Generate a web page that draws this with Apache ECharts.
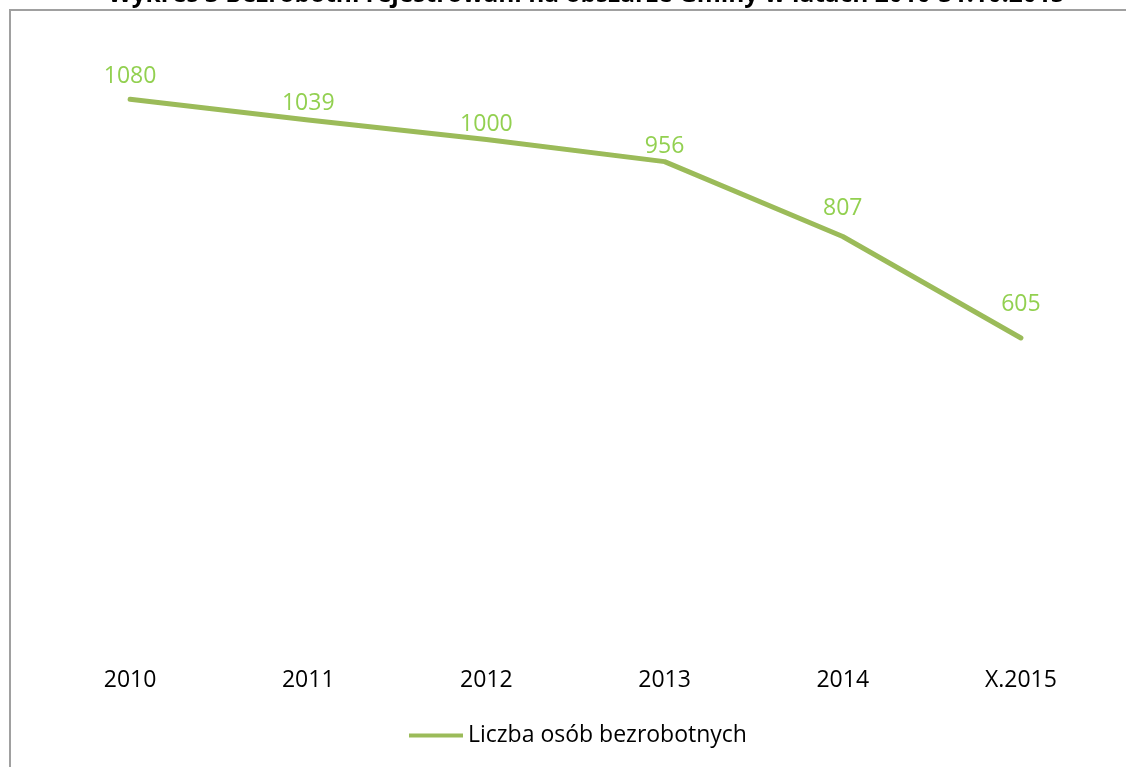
<!DOCTYPE html>
<html><head><meta charset="utf-8">
<script src="https://cdn.jsdelivr.net/npm/echarts@6/dist/echarts.min.js"></script>
<style>html,body{margin:0;padding:0;background:#fff}#c{width:1126px;height:767px}</style>
</head><body><div id="c"></div>
<script>
const categories = ['2010','2011','2012','2013','2014','X.2015'];
const values = [1080,1039,1000,956,807,605];
const seriesName = 'Liczba osób bezrobotnych';
const titleText = 'Wykres 3 Bezrobotni rejestrowani na obszarze Gminy w latach 2010-31.10.2015';
// label placement tweaks (style only, pixels)
const labelShiftY = [2, 8, 9, 9, -4, -9];
const FONT = '"Open Sans", "Noto Sans", sans-serif';
const chart = echarts.init(document.getElementById('c'));
chart.setOption({
  animation:false,
  backgroundColor:'#fff',
  title:{text:titleText,left:103,top:-22,textStyle:{fontFamily:FONT,fontSize:24.5,fontWeight:'bold',color:'#000'}},
  graphic:[{type:'rect',z:-1,shape:{x:10,y:10,width:1200,height:800},style:{fill:'none',stroke:'#a0a0a0',lineWidth:2}}],
  legend:{bottom:15,left:404,itemWidth:54,itemHeight:4,itemGap:4,icon:'rect',
    textStyle:{fontFamily:FONT,fontSize:23,color:'#000'},data:[seriesName]},
  grid:{left:41,right:16,top:39,bottom:125},
  xAxis:{type:'category',data:categories,axisLine:{show:false},axisTick:{show:false},
    axisLabel:{fontFamily:FONT,fontSize:23,color:'#000',margin:27}},
  yAxis:{type:'value',min:0,max:1200,show:false,splitLine:{show:false}},
  series:[{name:seriesName,type:'line',
    data:values.map((v,i)=>({value:v,label:{offset:[0,labelShiftY[i]]}})),
    symbol:'circle',symbolSize:0,showSymbol:true,
    lineStyle:{color:'#9BBB59',width:5,cap:'round',join:'round'},itemStyle:{color:'#9BBB59'},
    label:{show:true,position:'top',distance:13,fontFamily:FONT,fontSize:23,color:'#92D050'}}]
});
</script></body></html>
